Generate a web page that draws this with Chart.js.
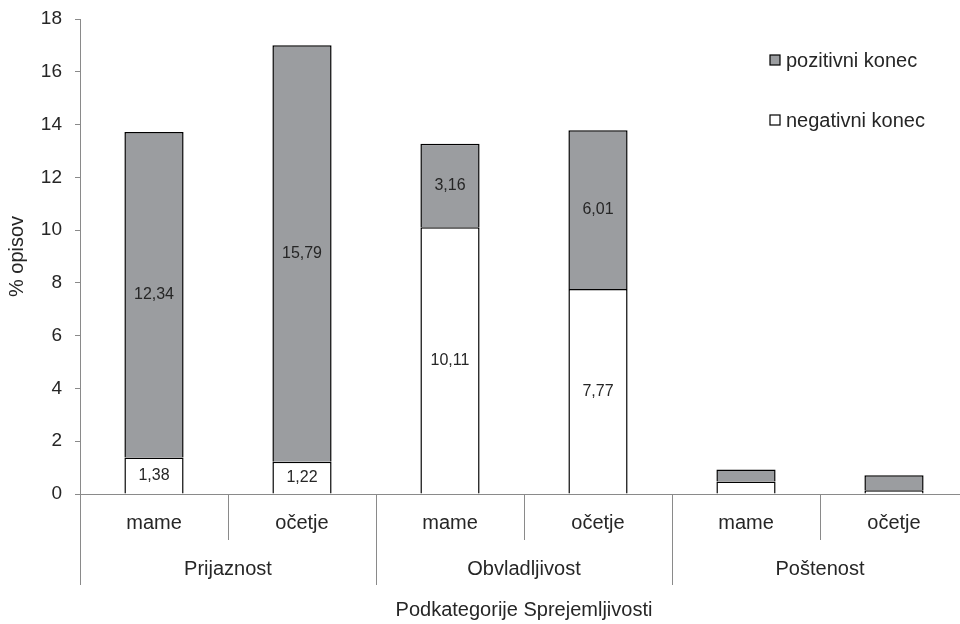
<!DOCTYPE html>
<html>
<head>
<meta charset="utf-8">
<script src="https://cdn.jsdelivr.net/npm/chart.js@4"></script>
<style>
  html, body { margin: 0; padding: 0; background: #fff; }
  #okvir { width: 960px; height: 624px; overflow: hidden; }
  #okvir div { width: 975px; height: 624px; }
</style>
</head>
<body>
<div id="okvir"><div><canvas id="graf"></canvas></div></div>
<script>
// podatki
const kategorije = ['mame', 'očetje', 'mame', 'očetje', 'mame', 'očetje'];
const skupine = ['Prijaznost', 'Obvladljivost', 'Poštenost'];
const negativni = [1.38, 1.22, 10.11, 7.77, 0.47, 0.14];
const pozitivni = [12.34, 15.79, 3.16, 6.01, 0.46, 0.57];
const yTicks = [0, 2, 4, 6, 8, 10, 12, 14, 16, 18];

const pisava = 'Liberation Sans, Arial, sans-serif';
const barvaTeksta = '#262626';
const sivaOs = '#8a8a8a';

// skupine, vrednosti v stolpcih in legenda
const dodatki = {
    id: 'dodatki',
    afterDraw(chart) {
        const ctx = chart.ctx;
        const x = chart.scales.x;
        const area = chart.chartArea;
        const pol = (x.getPixelForValue(1) - x.getPixelForValue(0)) / 2;

        ctx.save();
        ctx.strokeStyle = sivaOs;
        ctx.lineWidth = 1;
        for (let i = 0; i <= kategorije.length; i++) {
            const px = Math.round((i < kategorije.length ? x.getPixelForValue(i) : x.getPixelForValue(i - 1) + 2 * pol) - pol) + 0.5;
            ctx.beginPath();
            ctx.moveTo(px, area.bottom);
            ctx.lineTo(px, i % 2 === 0 ? 585 : 540);
            ctx.stroke();
        }

        ctx.fillStyle = barvaTeksta;
        ctx.font = '20px ' + pisava;
        ctx.textAlign = 'center';
        ctx.textBaseline = 'middle';
        skupine.forEach((s, g) => {
            const cx = (x.getPixelForValue(2 * g) + x.getPixelForValue(2 * g + 1)) / 2;
            ctx.fillText(s, cx, 569);
        });

        // vrednosti
        ctx.font = '16px ' + pisava;
        chart.data.datasets.forEach((ds, d) => {
            const meta = chart.getDatasetMeta(d);
            meta.data.forEach((el, i) => {
                const v = ds.data[i];
                if (v < 1) return;
                ctx.fillText(v.toFixed(2).replace('.', ','), el.x, (el.y + el.base) / 2);
            });
        });

        // legenda
        const legenda = [
            { tekst: 'pozitivni konec', barva: '#9b9da0', y: 61 },
            { tekst: 'negativni konec', barva: '#ffffff', y: 121 }
        ];
        ctx.font = '20px ' + pisava;
        ctx.textAlign = 'left';
        legenda.forEach(l => {
            ctx.fillStyle = l.barva;
            ctx.fillRect(770, l.y - 6, 10, 10);
            ctx.strokeStyle = '#000';
            ctx.lineWidth = 1.2;
            ctx.strokeRect(770, l.y - 6, 10, 10);
            ctx.fillStyle = barvaTeksta;
            ctx.fillText(l.tekst, 786, l.y);
        });
        ctx.restore();
    }
};

const ctx = document.getElementById('graf').getContext('2d');
const graf = new Chart(ctx, {
    type: 'bar',
    data: {
        labels: kategorije,
        datasets: [{
            label: 'negativni konec',
            data: negativni,
            backgroundColor: '#ffffff',
            borderColor: '#000000',
            borderWidth: 1.5
        }, {
            label: 'pozitivni konec',
            data: pozitivni,
            backgroundColor: '#9b9da0',
            borderColor: '#000000',
            borderWidth: 1.5
        }]
    },
    options: {
        responsive: true,
        maintainAspectRatio: false,
        animation: false,
        devicePixelRatio: 1,
        barPercentage: 0.4,
        categoryPercentage: 1.0,
        layout: { padding: { top: 19, right: 7, left: 0, bottom: 0 } },
        plugins: {
            legend: { display: false },
            tooltip: { enabled: false }
        },
        scales: {
            x: {
                stacked: true,
                grid: { display: false, drawTicks: false },
                border: { color: sivaOs, width: 1 },
                ticks: {
                    color: barvaTeksta,
                    font: { family: pisava, size: 20 },
                    padding: 17,
                    maxRotation: 0
                },
                title: {
                    display: true,
                    text: 'Podkategorije Sprejemljivosti',
                    color: barvaTeksta,
                    font: { family: pisava, size: 20 },
                    padding: { top: 0, bottom: 2 }
                },
                afterFit(scale) {
                    scale.height = 130;
                    scale.paddingLeft = 0;
                    scale.paddingRight = 0;
                }
            },
            y: {
                stacked: true,
                min: 0,
                max: 18,
                afterBuildTicks(scale) { scale.ticks = yTicks.map(v => ({ value: v })); },
                grid: { drawOnChartArea: false, drawTicks: true, tickLength: 5, color: sivaOs },
                border: { color: sivaOs, width: 1 },
                ticks: {
                    color: barvaTeksta,
                    font: { family: pisava, size: 19 },
                    padding: 13
                },
                title: {
                    display: true,
                    text: '% opisov',
                    color: barvaTeksta,
                    font: { family: pisava, size: 20 },
                    padding: { top: 5, bottom: 0 }
                },
                afterFit(scale) {
                    scale.width = 80;
                    scale.paddingTop = 0;
                    scale.paddingBottom = 0;
                }
            }
        }
    },
    plugins: [dodatki]
});
</script>
</body>
</html>
